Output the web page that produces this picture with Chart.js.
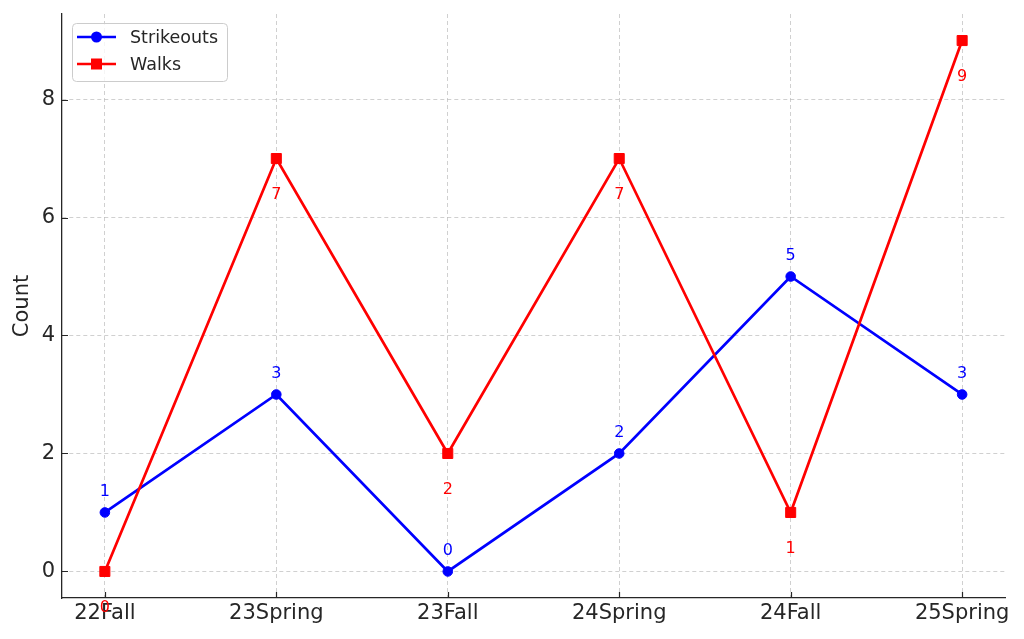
<!DOCTYPE html>
<html>
<head>
<meta charset="utf-8">
<script src="https://cdn.jsdelivr.net/npm/chart.js@4.4.1/dist/chart.umd.min.js"></script>
<style>
  body { margin: 0; background: #fff; }
  #wrap { width: 1024px; height: 639px; position: relative; }
</style>
</head>
<body>
<div id="wrap"><canvas id="myChart"></canvas></div>
<script>
const terms = ['22Fall', '23Spring', '23Fall', '24Spring', '24Fall', '25Spring'];
const strikeouts = [1, 3, 0, 2, 5, 3];
const walks = [0, 7, 2, 7, 1, 9];
const yTicks = [0, 2, 4, 6, 8];

const FONT = "'DejaVu Sans', sans-serif";
const TEXT = '#262626';

// value labels + inward tick marks + legend box inside the plot
const extras = {
  id: 'extras',
  beforeDatasetsDraw(chart) {
    const c = chart.ctx, a = chart.chartArea;
    const xs = chart.scales.x, ys = chart.scales.y;
    c.save();
    c.strokeStyle = TEXT;
    c.lineWidth = 1.2;
    c.beginPath();
    terms.forEach((t, i) => {
      let px = Math.round(xs.getPixelForValue(i)) + 0.5;
      c.moveTo(px, a.bottom); c.lineTo(px, a.bottom - 6);
    });
    yTicks.forEach(v => {
      let py = Math.round(ys.getPixelForValue(v)) + 0.5;
      c.moveTo(a.left, py); c.lineTo(a.left + 6, py);
    });
    c.stroke();
    c.restore();
  },
  afterDatasetsDraw(chart) {
    const c = chart.ctx;
    c.save();
    c.font = '16px ' + FONT;
    c.textAlign = 'center';
    c.textBaseline = 'middle';
    chart.data.datasets.forEach((ds, di) => {
      const meta = chart.getDatasetMeta(di);
      c.fillStyle = ds.borderColor;
      meta.data.forEach((pt, i) => {
        let dy = ds.label === 'Walks' ? 36 : -21;
        c.fillText(String(ds.data[i].y), pt.x, pt.y + dy);
      });
    });

    // legend
    const bx = 72.5, by = 23.5, bw = 155, bh = 58, r = 4;
    c.beginPath();
    c.moveTo(bx + r, by);
    c.arcTo(bx + bw, by, bx + bw, by + bh, r);
    c.arcTo(bx + bw, by + bh, bx, by + bh, r);
    c.arcTo(bx, by + bh, bx, by, r);
    c.arcTo(bx, by, bx + bw, by, r);
    c.closePath();
    c.fillStyle = 'rgba(255,255,255,0.8)';
    c.fill();
    c.strokeStyle = '#cccccc';
    c.lineWidth = 1;
    c.stroke();

    const rows = [
      { label: 'Strikeouts', color: '#0000ff', shape: 'circle', y: 37 },
      { label: 'Walks', color: '#ff0000', shape: 'rect', y: 64 }
    ];
    c.textAlign = 'left';
    c.font = '17.5px ' + FONT;
    rows.forEach(row => {
      c.strokeStyle = row.color;
      c.fillStyle = row.color;
      c.lineWidth = 2.7;
      c.beginPath();
      c.moveTo(77, row.y); c.lineTo(116, row.y);
      c.stroke();
      if (row.shape === 'circle') {
        c.beginPath(); c.arc(96.5, row.y, 5.5, 0, Math.PI * 2); c.fill();
      } else {
        c.fillRect(91, row.y - 5.5, 11, 11);
      }
      c.fillStyle = TEXT;
      c.fillText(row.label, 130, row.y + 1);
    });
    c.restore();
  }
};

let ctx = document.getElementById('myChart').getContext('2d');
var myChart = new Chart(ctx, {
  type: 'line',
  data: {
    datasets: [
      {
        label: 'Strikeouts',
        data: strikeouts.map((v, i) => ({ x: i, y: v })),
        borderColor: '#0000ff',
        backgroundColor: '#0000ff',
        borderWidth: 2.7,
        pointStyle: 'circle',
        pointRadius: 4.8,
        pointBorderWidth: 1,
        order: 1
      },
      {
        label: 'Walks',
        data: walks.map((v, i) => ({ x: i, y: v })),
        borderColor: '#ff0000',
        backgroundColor: '#ff0000',
        borderWidth: 2.7,
        pointStyle: 'rect',
        pointRadius: 7.1,
        pointBorderWidth: 1,
        order: 0
      }]
  },
  options: {
    responsive: true,
    maintainAspectRatio: false,
    animation: false,
    layout: { padding: { left: 0, top: 14, right: 19, bottom: 0 } },
    plugins: {
      legend: { display: false },
      tooltip: { enabled: false }
    },
    scales: {
      x: {
        type: 'linear',
        min: -0.25,
        max: 5.25,
        afterBuildTicks: s => { s.ticks = terms.map((t, i) => ({ value: i })); },
        afterFit: s => { s.height = 41; s.paddingLeft = 0; s.paddingRight = 0; },
        ticks: {
          callback: v => terms[v],
          autoSkip: false,
          maxRotation: 0,
          padding: 3,
          color: TEXT,
          font: { family: FONT, size: 21 }
        },
        grid: { color: 'rgba(176,176,176,0.6)', lineWidth: 1, drawTicks: false },
        border: { color: TEXT, width: 1.3, dash: [4, 3] }
      },
      y: {
        min: -0.45,
        max: 9.45,
        afterBuildTicks: s => { s.ticks = yTicks.map(v => ({ value: v })); },
        afterFit: s => { s.width = 62; s.paddingTop = 0; s.paddingBottom = 0; },
        ticks: {
          padding: 7,
          color: TEXT,
          font: { family: FONT, size: 21 }
        },
        title: {
          display: true,
          text: 'Count',
          color: TEXT,
          font: { family: FONT, size: 21 },
          padding: { top: 10, bottom: 0 }
        },
        grid: { color: 'rgba(176,176,176,0.6)', lineWidth: 1, drawTicks: false },
        border: { color: TEXT, width: 1.3, dash: [4, 3] }
      }
    }
  },
  plugins: [extras]
});
</script>
</body>
</html>
